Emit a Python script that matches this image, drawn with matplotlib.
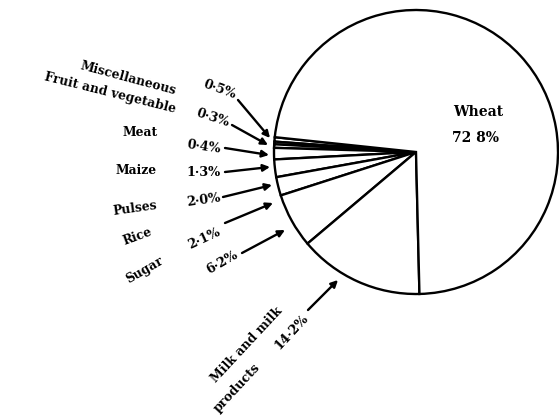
import numpy as np
import matplotlib.pyplot as plt

# share of food expenditure (%)
foods = ['Miscellaneous', 'Fruit and vegetable', 'Meat', 'Maize', 'Pulses',
         'Rice', 'Sugar', 'Milk and milk products', 'Wheat']
shares = [0.5, 0.3, 0.4, 1.3, 2.0, 2.1, 6.2, 14.2, 72.8]
pct_labels = ['0·5%', '0·3%', '0·4%', '1·3%', '2·0%', '2·1%', '6·2%', '14·2%', '72 8%']

W, H = 559, 415

def Y(y):
    # image pixel row -> data y
    return H - y

fig = plt.figure(figsize=(5.59, 4.15), dpi=100)
ax = fig.add_axes([0, 0, 1, 1])

ax.pie(shares, startangle=174, counterclock=True, center=(416, Y(152)), radius=142,
       colors=['white'] * len(shares),
       wedgeprops=dict(edgecolor='black', linewidth=1.7))
ax.set_xlim(0, W)
ax.set_ylim(0, H)
ax.set_aspect('equal')
ax.axis('off')

fnt = dict(family='DejaVu Serif', fontweight='bold', color='black')

# name labels (x, y in image pixels, rotation)
name_pos = [(128, 78, -15), (110, 93, -14), (140, 133, 0), (136, 171, 0),
            (135, 208, 8), (137, 237, 20), (145, 270, 30)]
pct_pos = [(220, 90, -20), (213, 118, -18), (204, 147, -8), (203, 173, 0),
           (204, 200, 8), (204, 239, 25), (222, 262, 30)]
arrows = [((238, 100), (270, 138)), ((232, 125), (268, 145)), ((225, 148), (269, 155)),
          ((225, 172), (270, 167)), ((223, 197), (272, 185)), ((225, 223), (273, 203)),
          ((242, 253), (285, 230)), ((308, 310), (338, 280))]

for i in range(7):
    x, y, r = name_pos[i]
    ax.text(x, Y(y), foods[i], rotation=r, ha='center', va='center', fontsize=8.8, **fnt)
    x, y, r = pct_pos[i]
    ax.text(x, Y(y), pct_labels[i], rotation=r, ha='center', va='center', fontsize=9.2, **fnt)

# milk label, rotated
ax.text(247, Y(345), 'Milk and milk', rotation=47, ha='center', va='center', fontsize=9, **fnt)
ax.text(237, Y(388), 'products', rotation=47, ha='center', va='center', fontsize=9, **fnt)
ax.text(292, Y(332), pct_labels[7], rotation=47, ha='center', va='center', fontsize=9.2, **fnt)

for (x0, y0), (x1, y1) in arrows:
    ax.annotate('', xy=(x1, Y(y1)), xytext=(x0, Y(y0)),
                arrowprops=dict(arrowstyle='-|>', color='black', lw=1.7,
                                mutation_scale=10, shrinkA=0, shrinkB=0))

# wheat label inside
ax.text(478, Y(112), foods[8], ha='center', va='center', fontsize=10, **fnt)
ax.text(476, Y(138), pct_labels[8], ha='center', va='center', fontsize=10, **fnt)

fig.savefig('out.png', dpi=100, facecolor='white')
